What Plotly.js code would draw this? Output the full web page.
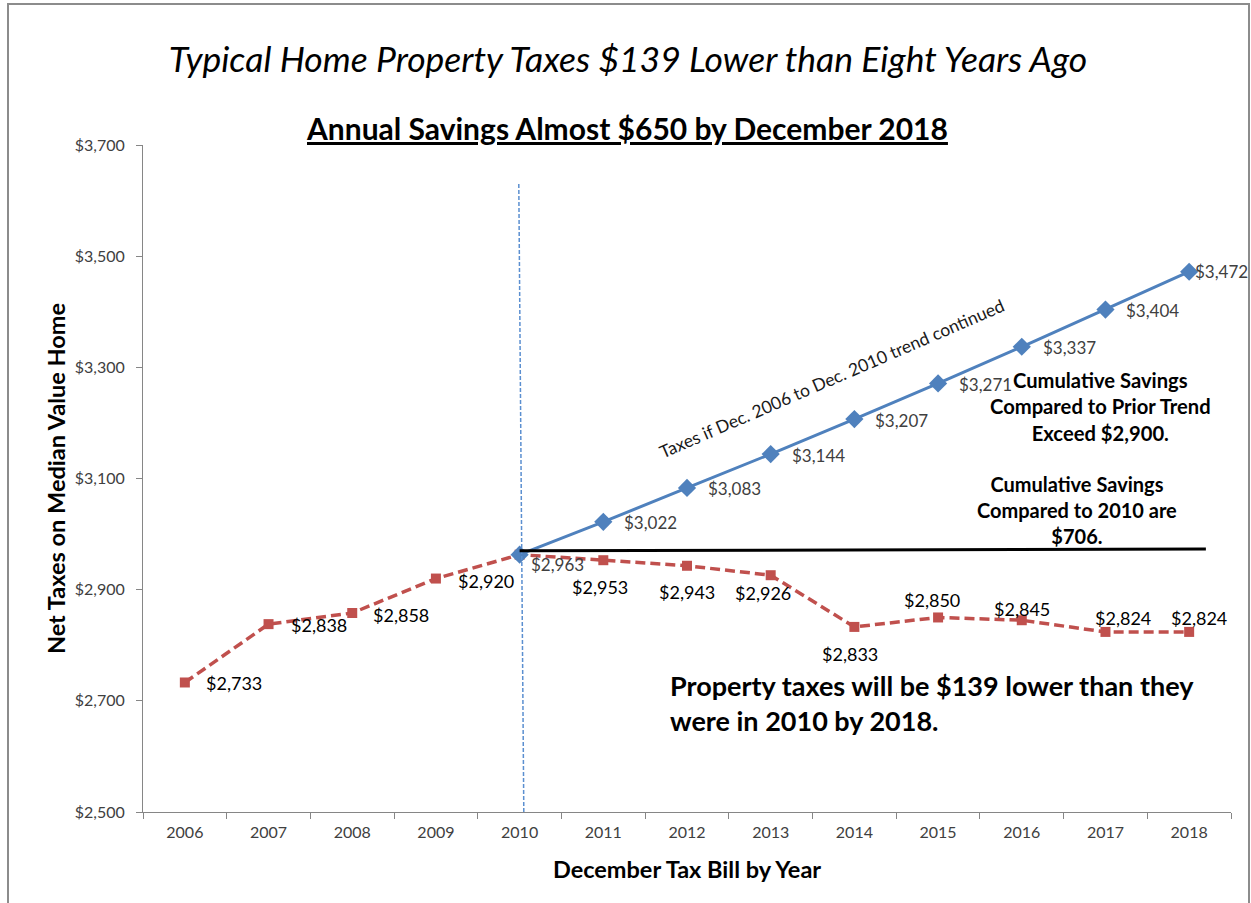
<!DOCTYPE html>
<html>
<head>
<meta charset="utf-8">
<script src="https://cdn.plot.ly/plotly-3.0.1.min.js"></script>
<style>
  html, body { margin: 0; padding: 0; background: #fff; }
  #wrap { position: relative; width: 1251px; height: 903px; overflow: hidden; }
  #chart { position: absolute; left: 0; top: 0; width: 1251px; height: 903px; }
  #frame { position: absolute; left: 7px; top: 3px; width: 1239px; height: 1000px;
           border: 2px solid #8c8c8c; pointer-events: none; }
</style>
</head>
<body>
<div id="wrap"><div id="chart"></div><div id="frame"></div></div>
<script>
// ---- data ----
const years = ['2006','2007','2008','2009','2010','2011','2012','2013','2014','2015','2016','2017','2018'];
const actualTaxes = [2733, 2838, 2858, 2920, 2963, 2953, 2943, 2926, 2833, 2850, 2845, 2824, 2824];
const trendYears = ['2010','2011','2012','2013','2014','2015','2016','2017','2018'];
const trendTaxes = [2963, 3022, 3083, 3144, 3207, 3271, 3337, 3404, 3472];
const yTickVals = [2500, 2700, 2900, 3100, 3300, 3500, 3700];

// ---- styling ----
const FONT = 'Lato, "Open Sans", sans-serif';
const RED = '#C0504D';
const BLUE = '#4F81BD';
const fmt = v => '$' + v.toLocaleString('en-US');
const idx = yr => years.indexOf(yr);   // category serial number on the x axis

// label offsets (px) for the actual-tax labels, [xanchor, xshift, yshift]
const redLabelStyle = [
  ['left', 19, -1], ['left', 20, -1], ['left', 19, -2], ['left', 20, -2], null,
  ['center', -3, -27], ['center', 0, -26], ['center', -8, -18], ['center', -4, -27],
  ['center', -6, 17], ['center', 0, 11], ['center', 18, 14], ['center', 10, 14]
];
const blueLabelStyle = i => (i === 0 ? [9, -10] : (i === trendTaxes.length - 1 ? [4, 0] : [19, -1]));

const traces = [
  {
    x: years, y: actualTaxes, type: 'scatter', mode: 'lines+markers',
    line: {color: RED, width: 3.5, dash: '10px,5px'},
    marker: {symbol: 'square', size: 10, color: RED},
    hoverinfo: 'x+y', showlegend: false
  },
  {
    x: trendYears, y: trendTaxes, type: 'scatter', mode: 'lines+markers',
    line: {color: BLUE, width: 3},
    marker: {symbol: 'diamond', size: 14, color: BLUE},
    hoverinfo: 'x+y', showlegend: false
  }
];

const annotations = [];
actualTaxes.forEach((v, i) => {
  const s = redLabelStyle[i];
  if (!s) return;
  annotations.push({
    x: idx(years[i]), y: v, xref: 'x', yref: 'y', text: fmt(v), showarrow: false,
    xanchor: s[0], yanchor: 'middle', xshift: s[1], yshift: s[2],
    font: {family: FONT, size: 18, color: '#000'}
  });
});
trendTaxes.forEach((v, i) => {
  const s = blueLabelStyle(i);
  annotations.push({
    x: idx(trendYears[i]), y: v, xref: 'x', yref: 'y', text: fmt(v), showarrow: false,
    xanchor: 'left', yanchor: 'middle', xshift: s[0], yshift: s[1],
    font: {family: FONT, size: 17, color: '#404040'}
  });
});

// subtitle
annotations.push({
  xref: 'paper', yref: 'paper', x: 0.4446, y: 1.026, xanchor: 'center', yanchor: 'middle',
  text: '<b><u>Annual Savings Almost $650 by December 2018</u></b>', showarrow: false,
  font: {family: FONT, size: 30, color: '#000'}
});
// trend caption
annotations.push({
  xref: 'x', yref: 'y', x: 7.73, y: 3280, textangle: -23.4, showarrow: false,
  text: 'Taxes if Dec. 2006 to Dec. 2010 trend continued',
  font: {family: FONT, size: 17.5, color: '#1a1a1a'}
});
// cumulative notes
annotations.push({
  xref: 'x', yref: 'y', x: 10.94, y: 3230, showarrow: false, align: 'center',
  text: '<b>Cumulative Savings<br>Compared to Prior Trend<br>Exceed $2,900.</b>',
  font: {family: FONT, size: 20.2, color: '#000'}
});
annotations.push({
  xref: 'x', yref: 'y', x: 10.66, y: 3044, showarrow: false, align: 'center',
  text: '<b>Cumulative Savings<br>Compared to 2010 are<br>$706.</b>',
  font: {family: FONT, size: 20, color: '#000'}
});
annotations.push({
  xref: 'x', yref: 'y', x: 5.77, y: 2697, xanchor: 'left', showarrow: false, align: 'left',
  text: '<b>Property taxes will be $139 lower than they<br>were in 2010 by 2018.</b>',
  font: {family: FONT, size: 27, color: '#000'}
});

const i2010 = idx('2010');
const shapes = [
  {type: 'line', xref: 'x', yref: 'y', x0: i2010 + 0.05, x1: i2010 - 0.01, y0: 2500, y1: 3632,
   line: {color: '#5B8FD0', width: 1.5, dash: '4px,2px'}},
  {type: 'line', xref: 'x', yref: 'y', x0: i2010, x1: 12.2, y0: 2970, y1: 2973,
   line: {color: '#000', width: 3}}
];

const layout = {
  width: 1251, height: 903,
  margin: {l: 143, r: 20, t: 145, b: 91, pad: 0},
  paper_bgcolor: '#fff', plot_bgcolor: '#fff',
  font: {family: FONT, color: '#000'},
  title: {
    text: '<i>Typical Home Property Taxes $139 Lower than Eight Years Ago</i>',
    x: 0.502, xref: 'container', xanchor: 'center',
    y: 1 - 60 / 903, yref: 'container', yanchor: 'middle',
    font: {family: FONT, size: 35.5, color: '#000'}
  },
  xaxis: {
    type: 'category', range: [-0.5, 12.5], tickson: 'boundaries',
    showline: true, linecolor: '#868686', linewidth: 1,
    ticks: 'outside', ticklen: 6, tickcolor: '#868686',
    showgrid: false, zeroline: false,
    tickfont: {family: FONT, size: 16, color: '#404040'},
    ticklabelstandoff: 6,
    title: {text: '<b>December Tax Bill by Year</b>', standoff: 21,
            font: {family: FONT, size: 23.5, color: '#000'}}
  },
  yaxis: {
    range: [2500, 3700], tickvals: yTickVals, tickformat: '$,.0f',
    showline: true, linecolor: '#868686', linewidth: 1,
    ticks: 'outside', ticklen: 6, tickcolor: '#868686',
    showgrid: false, zeroline: false,
    tickfont: {family: FONT, size: 16, color: '#404040'},
    ticklabelstandoff: 8,
    title: {text: '<b>Net Taxes on Median Value Home</b>', standoff: 2,
            font: {family: FONT, size: 23.5, color: '#000'}}
  },
  annotations: annotations,
  shapes: shapes,
  showlegend: false
};

Plotly.newPlot('chart', traces, layout, {displayModeBar: false, staticPlot: true});
</script>
</body>
</html>
